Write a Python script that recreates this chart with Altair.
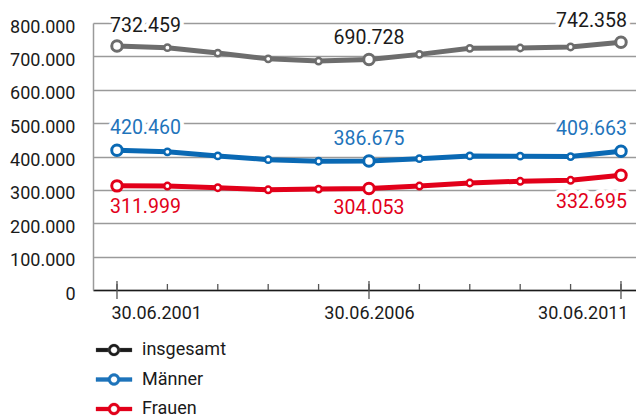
import altair as alt
import pandas as pd

years = list(range(2001, 2012))
# values as plotted in the picture
insgesamt = [731000, 726000, 710000, 692700, 685800, 690728, 706000, 724200, 725100, 728200, 742358]
maenner = [419000, 414000, 401800, 390600, 385800, 386675, 393600, 401800, 400900, 399700, 416000]
frauen = [312000, 311500, 306400, 300300, 302400, 304053, 311500, 320600, 325800, 328800, 344000]
series_names = ["insgesamt", "Männer", "Frauen"]
line_colors = ["#6d6d6d", "#0a69b4", "#e2001a"]
label_colors = ["#1a1a1a", "#1f74bb", "#e2001a"]
labeled_years = [2001, 2006, 2011]
# printed value labels (first, middle, last year)
label_texts = {
    "insgesamt": ["732.459", "690.728", "742.358"],
    "Männer": ["420.460", "386.675", "409.663"],
    "Frauen": ["311.999", "304.053", "332.695"],
}
y_ticks = [0, 100000, 200000, 300000, 400000, 500000, 600000, 700000, 800000]

FONT = "Roboto"
W, H = 543, 267

rows = []
for name, vals in zip(series_names, [insgesamt, maenner, frauen]):
    for yr, v in zip(years, vals):
        lbl = ""
        if yr in labeled_years:
            lbl = label_texts[name][labeled_years.index(yr)]
        rows.append({"year": yr, "series": name, "value": v,
                     "big": yr in labeled_years, "lbl": lbl})
df = pd.DataFrame(rows)
df_years = pd.DataFrame({"year": years})
df_major = pd.DataFrame({"year": labeled_years})

xscale = alt.Scale(domain=[2000.524, 2011.298], nice=False, zero=False)
yscale = alt.Scale(domain=[0, 800000], nice=False)
X = alt.X("year:Q", scale=xscale,
          axis=alt.Axis(values=labeled_years, ticks=False, grid=False,
                        labelExpr="'30.06.' + datum.value", labelFontSize=18,
                        labelFont=FONT, labelColor="#1a1a1a", labelPadding=14,
                        labelAlign={"condition": [{"test": "datum.value == 2001", "value": "left"},
                                                  {"test": "datum.value == 2011", "value": "right"}],
                                    "value": "center"},
                        labelOffset={"condition": [{"test": "datum.value == 2001", "value": -6},
                                                   {"test": "datum.value == 2011", "value": 7}],
                                     "value": 0},
                        domainColor="#1a1a1a", domainWidth=1.5, title=None))
Y = alt.Y("value:Q", scale=yscale,
          axis=alt.Axis(values=y_ticks, ticks=False, grid=True, gridColor="#9a9a9a",
                        gridWidth=1.5, domainColor="#9a9a9a", domainWidth=1.5,
                        labelExpr="replace(format(datum.value, ','), ',', '.')",
                        labelFontSize=18, labelFont=FONT, labelColor="#1a1a1a",
                        labelPadding=18, labelOffset=4, title=None))

# legend symbol: two bars and a ring (hole via opposite winding)
legend_path = ("M-3,-0.33H-0.8V0.33H-3Z"
               "M0.8,-0.33H3V0.33H0.8Z"
               "M1,0A1,1,0,1,1,-1,0A1,1,0,1,1,1,0Z"
               "M0.55,0A0.55,0.55,0,1,0,-0.55,0A0.55,0.55,0,1,0,0.55,0Z")
leg = alt.Legend(title=None, orient="none", legendX=12, legendY=318,
                 direction="vertical", symbolType=legend_path,
                 symbolSize=144, symbolStrokeWidth=0.3,
                 labelFontSize=18, labelFont=FONT, labelColor="#1a1a1a",
                 labelOffset=19, rowPadding=11.5, padding=0)

color = alt.Color("series:N", scale=alt.Scale(domain=series_names, range=line_colors),
                  legend=leg)
stroke = alt.Stroke("series:N", scale=alt.Scale(domain=series_names, range=line_colors),
                    legend=None)
fill_lbl = alt.Fill("series:N", scale=alt.Scale(domain=series_names, range=label_colors),
                    legend=None)

base = alt.Chart(df)

minor_ticks = alt.Chart(df_years).mark_rule(color="#555555", strokeWidth=1.3).encode(
    x=X, y=alt.value(H - 6), y2=alt.value(H))
major_ticks = alt.Chart(df_major).mark_rule(color="#555555", strokeWidth=1.3).encode(
    x=X, y=alt.value(H - 9), y2=alt.value(H + 9))

lines = base.mark_line(strokeWidth=5).encode(x=X, y=Y, color=color)
small_pts = base.transform_filter("!datum.big").mark_point(
    shape="circle", size=40, strokeWidth=2.5, opacity=1, fill="white", filled=False
).encode(x=X, y=Y, stroke=stroke)
big_pts = base.transform_filter("datum.big").mark_point(
    shape="circle", size=110, strokeWidth=3, opacity=1, fill="white", filled=False
).encode(x=X, y=Y, stroke=stroke)

dys = {
    ("insgesamt", 2001): -14, ("insgesamt", 2006): -15, ("insgesamt", 2011): -15,
    ("Männer", 2001): -16.5, ("Männer", 2006): -16, ("Männer", 2011): -16,
    ("Frauen", 2001): 12.5, ("Frauen", 2006): 10.5, ("Frauen", 2011): 17.5,
}
text_layers = []
for yr, align, dx in [(2001, "left", -7), (2006, "center", 0), (2011, "right", 6)]:
    for grp in series_names:
        flt = f"datum.year == {yr} && datum.series == '{grp}'"
        baseline = "alphabetic" if grp != "Frauen" else "top"
        dy = dys[(grp, yr)]
        sub = base.transform_filter(flt)
        halo = sub.mark_text(align=align, baseline=baseline, dx=dx, dy=dy, fontSize=19.5,
                             font=FONT, stroke="white", strokeWidth=8, fill="white",
                             strokeJoin="round").encode(x=X, y=Y, text="lbl:N")
        txt = sub.mark_text(align=align, baseline=baseline, dx=dx, dy=dy, fontSize=19.5,
                            font=FONT).encode(x=X, y=Y, text="lbl:N", fill=fill_lbl)
        text_layers += [halo, txt]

chart = alt.layer(lines, minor_ticks, major_ticks, small_pts, big_pts, *text_layers).properties(
    width=W, height=H,
    padding={"left": 85, "top": 15, "right": 0, "bottom": 126},
    autosize=alt.AutoSizeParams(type="none"),
).configure_view(stroke=None)

chart.save("out.html", embed_options={"renderer": "svg", "actions": False})
